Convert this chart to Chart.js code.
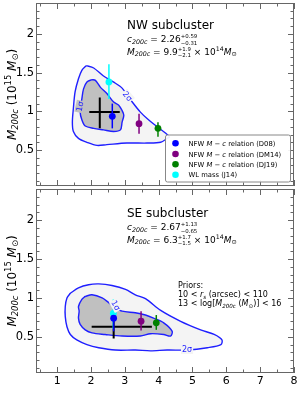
<!DOCTYPE html>
<html><head><meta charset="utf-8">
<script src="https://cdn.jsdelivr.net/npm/chart.js@4"></script>
<style>
html,body{margin:0;padding:0;background:#fff;}
#wrap{position:relative;width:300px;height:401px;}
.box{position:absolute;left:0;width:300px;}
</style></head>
<body><div id="wrap">
<div class="box" style="top:0;height:188px"><canvas id="c1"></canvas></div>
<div class="box" style="top:188px;height:213px"><canvas id="c2"></canvas></div>
</div>
<script>
// ---------- data ----------
const xTicks = [1, 2, 3, 4, 5, 6, 7, 8];
const yTicks = [0.5, 1, 1.5, 2];
const pointLabels = ['NFW M − c relation (D08)', 'NFW M − c relation (DM14)', 'NFW M − c relation (DJ19)', 'WL mass (J14)'];
const pointColors = ['#0000ff', '#800080', '#008000', '#00ffff'];

// NW subcluster
const nwOuterC = [1.86, 2.08, 2.36, 2.66, 2.92, 3.22, 3.46, 3.70, 3.96, 4.20, 4.32, 4.25, 4.06, 3.66, 3.06, 2.47, 2.18, 1.88, 1.63, 1.48, 1.45, 1.48, 1.53, 1.63, 1.73];
const nwOuterM = [1.59, 1.56, 1.46, 1.38, 1.30, 1.12, 0.99, 0.89, 0.80, 0.72, 0.67, 0.65, 0.60, 0.59, 0.59, 0.57, 0.56, 0.60, 0.65, 0.74, 0.86, 1.04, 1.25, 1.42, 1.53];
const nwInnerC = [2.03, 2.13, 2.28, 2.47, 2.67, 2.82, 2.92, 2.97, 2.92, 2.87, 2.67, 2.37, 2.08, 1.83, 1.73, 1.68, 1.73, 1.78, 1.88];
const nwInnerM = [1.41, 1.40, 1.31, 1.23, 1.12, 1.08, 1.01, 0.95, 0.86, 0.76, 0.74, 0.76, 0.78, 0.81, 0.89, 0.99, 1.16, 1.29, 1.38];
const nwPointC = [2.63, 3.42, 3.98, 2.53];
const nwPointM = [0.935, 0.84, 0.78, 1.38];
const nwPointLo = [0.78, 0.71, 0.67, 1.16];
const nwPointHi = [1.10, 0.97, 0.86, 1.61];
const nwBest = [2.26, 0.31, 0.59, 0.99, 0.21, 0.19]; // c, -err, +err, M, -err, +err

// SE subcluster
const seOuterC = [1.39, 1.63, 1.93, 2.23, 2.62, 3.02, 3.31, 3.61, 4.06, 4.65, 5.24, 5.64, 5.87, 5.84, 5.44, 4.85, 4.25, 3.76, 3.31, 2.72, 2.23, 1.88, 1.58, 1.39, 1.29, 1.24, 1.24, 1.29];
const seOuterM = [1.06, 1.13, 1.17, 1.18, 1.16, 1.11, 1.04, 0.99, 0.84, 0.70, 0.59, 0.53, 0.46, 0.40, 0.36, 0.33, 0.33, 0.32, 0.33, 0.33, 0.36, 0.40, 0.46, 0.53, 0.63, 0.76, 0.89, 1.00];
const seInnerC = [1.83, 2.03, 2.33, 2.52, 2.67, 2.92, 3.31, 3.61, 3.85, 4.15, 4.40, 4.35, 4.15, 3.76, 3.46, 2.92, 2.42, 2.03, 1.83, 1.68, 1.63, 1.65, 1.63, 1.73];
const seInnerM = [1.02, 1.04, 1.00, 0.94, 0.89, 0.83, 0.81, 0.78, 0.74, 0.68, 0.57, 0.51, 0.53, 0.54, 0.51, 0.51, 0.53, 0.55, 0.59, 0.66, 0.74, 0.83, 0.89, 0.98];
const sePointC = [2.67, 3.48, 3.93, 2.66];
const sePointM = [0.74, 0.70, 0.68, 0.80];
const sePointLo = [0.57, 0.58, 0.59, 0.60];
const sePointHi = [0.86, 0.83, 0.78, 0.98];
const seBest = [2.67, 0.65, 1.13, 0.63, 0.15, 0.17];

// ---------- helpers ----------
const FONT = '"DejaVu Sans"';
const xMin = 0.375, xMax = 8, yMin = 0.035, yMax = 2.4;
function fnt(size, it) { return (it ? 'italic ' : '') + size + 'px ' + FONT; }
function segWidth(ctx, s, size) {
  if (s.sup !== undefined) {
    ctx.font = fnt(size * s.sc, false);
    return Math.max(ctx.measureText(s.sup).width, ctx.measureText(s.sub).width);
  }
  ctx.font = fnt(size * (s.sc || 1), s.it);
  return ctx.measureText(s.t).width;
}
function drawRich(ctx, segs, x, y, size, align, color) {
  let w = 0; segs.forEach(s => w += segWidth(ctx, s, size));
  let cx = align === 'center' ? x - w / 2 : x;
  ctx.fillStyle = color || '#000'; ctx.textBaseline = 'alphabetic'; ctx.textAlign = 'left';
  segs.forEach(s => {
    const sw = segWidth(ctx, s, size);
    if (s.sup !== undefined) {
      ctx.font = fnt(size * s.sc, false);
      ctx.fillText(s.sup, cx, y - size * 0.42);
      ctx.fillText(s.sub, cx, y + size * 0.3);
    } else {
      ctx.font = fnt(size * (s.sc || 1), s.it);
      ctx.fillText(s.t, cx, y + (s.dy || 0) * size);
    }
    cx += sw;
  });
  return w;
}
const SUB = (t) => ({ t, it: true, sc: 0.7, dy: 0.22 });
function closed(cs, ms) { const d = cs.map((c, i) => ({ x: c, y: ms[i] })); d.push({ x: cs[0], y: ms[0] }); return d; }

const panelPlugin = {
  id: 'panel',
  beforeDatasetsDraw(chart) { chart.$barsDone = false; },
  beforeDatasetDraw(chart, args) {
    const ds = chart.data.datasets[args.index];
    if (!ds.isPoint || chart.$barsDone) return;
    chart.$barsDone = true;
    const p = chart.options.plugins.panel;
    const ctx = chart.ctx, xs = chart.scales.x, ys = chart.scales.y;
    ctx.save();
    const b = p.best;
    ctx.strokeStyle = '#000'; ctx.lineWidth = 2;
    ctx.beginPath();
    ctx.moveTo(xs.getPixelForValue(b[0] - b[1]), ys.getPixelForValue(b[3]));
    ctx.lineTo(xs.getPixelForValue(b[0] + b[2]), ys.getPixelForValue(b[3]));
    ctx.moveTo(xs.getPixelForValue(b[0]), ys.getPixelForValue(b[3] - b[4]));
    ctx.lineTo(xs.getPixelForValue(b[0]), ys.getPixelForValue(b[3] + b[5]));
    ctx.stroke();
    ctx.lineWidth = 1.5;
    for (let i = p.pc.length - 1; i >= 0; i--) {
      ctx.strokeStyle = pointColors[i];
      ctx.beginPath();
      const px = xs.getPixelForValue(p.pc[i]);
      ctx.moveTo(px, ys.getPixelForValue(p.lo[i]));
      ctx.lineTo(px, ys.getPixelForValue(p.hi[i]));
      ctx.stroke();
    }
    ctx.restore();
  },
  afterDatasetsDraw(chart) {
    const p = chart.options.plugins.panel;
    const ctx = chart.ctx, xs = chart.scales.x, ys = chart.scales.y;
    p.sig.forEach(s => {
      ctx.save();
      ctx.translate(xs.getPixelForValue(s.c), ys.getPixelForValue(s.m));
      ctx.rotate(s.r * Math.PI / 180);
      ctx.font = fnt(8, false);
      const w = ctx.measureText(s.t).width;
      ctx.fillStyle = s.bg; ctx.fillRect(-w / 2 - 1, -5, w + 2, 9);
      ctx.fillStyle = '#1f1fff'; ctx.textAlign = 'center'; ctx.textBaseline = 'middle';
      ctx.fillText(s.t, 0, 0);
      ctx.restore();
    });
  },
  afterDraw(chart) {
    const p = chart.options.plugins.panel;
    const ctx = chart.ctx, a = chart.chartArea, xs = chart.scales.x, ys = chart.scales.y;
    ctx.save();
    ctx.strokeStyle = '#666'; ctx.lineWidth = 1;
    ctx.strokeRect(a.left + 0.5, a.top + 0.5, a.right - a.left - 1, a.bottom - a.top - 1);
    ctx.beginPath();
    for (let v = 0.5; v <= xMax + 1e-9; v += 0.5) {
      const major = Math.abs(v - Math.round(v)) < 1e-6;
      const L = major ? 6 : 3.5;
      const x = Math.round(xs.getPixelForValue(v)) + 0.5;
      ctx.moveTo(x, a.bottom); ctx.lineTo(x, a.bottom - L);
      ctx.moveTo(x, a.top); ctx.lineTo(x, a.top + L);
    }
    for (let k = 1; k <= 23; k++) {
      const v = k / 10;
      const major = k % 5 === 0;
      const L = major ? 6 : 3.5;
      const y = Math.round(ys.getPixelForValue(v)) + 0.5;
      ctx.moveTo(a.left, y); ctx.lineTo(a.left + L, y);
      ctx.moveTo(a.right, y); ctx.lineTo(a.right - L, y);
    }
    ctx.stroke();
    ctx.save();
    ctx.translate(15.5, (a.top + a.bottom) / 2);
    ctx.rotate(-Math.PI / 2);
    drawRich(ctx, [{ t: 'M', it: true }, SUB('200c'), { t: ' (10' }, { t: '15', sc: 0.7, dy: -0.4 }, { t: ' ' }, { t: 'M', it: true }, { t: '⊙', sc: 0.7, dy: 0.22 }, { t: ')' }], 0, 0, 12, 'center');
    ctx.restore();
    drawRich(ctx, [{ t: p.title }], 127, 29.3, 12, 'left');
    drawRich(ctx, p.line1, 127, 42, 9, 'left');
    drawRich(ctx, p.line2, 127, 54.5, 9, 'left');
    if (p.priors) {
      drawRich(ctx, [{ t: 'Priors:' }], 178, 99.7, 8, 'left');
      drawRich(ctx, [{ t: '10 < ' }, { t: 'r', it: true }, { t: 's', it: true, sc: 0.7, dy: 0.22 }, { t: ' (arcsec) < 110' }], 178, 109, 8, 'left');
      drawRich(ctx, [{ t: '13 < log[' }, { t: 'M', it: true }, SUB('200c'), { t: ' (' }, { t: 'M', it: true }, { t: '⊙', sc: 0.7, dy: 0.22 }, { t: ')] < 16' }], 178, 118, 8, 'left');
      drawRich(ctx, [{ t: 'c', it: true }, SUB('200c')], (a.left + a.right) / 2, 395, 12.5, 'center');
    }
    if (p.legend) {
      const bx = 165, by = 134.5, bw = 125, bh = 47;
      ctx.fillStyle = 'rgba(255,255,255,0.92)'; ctx.strokeStyle = '#888'; ctx.lineWidth = 1;
      ctx.beginPath(); ctx.roundRect(bx + 0.5, by + 0.5, bw, bh, 2); ctx.fill(); ctx.stroke();
      const rows = [143.3, 154, 164.3, 174.8];
      pointLabels.forEach((lab, i) => {
        ctx.fillStyle = pointColors[i];
        ctx.beginPath(); ctx.arc(175.5, rows[i], 3.3, 0, Math.PI * 2); ctx.fill();
        let segs;
        const m = lab.match(/^(.*? )M − c( .*)$/);
        if (m) segs = [{ t: m[1] }, { t: 'M', it: true }, { t: ' − ' }, { t: 'c', it: true }, { t: m[2] }];
        else segs = [{ t: lab }];
        drawRich(ctx, segs, 188.5, rows[i] + 2.5, 6.8, 'left');
      });
    }
    ctx.restore();
  }
};

function zeroPad(s) { s.paddingTop = 0; s.paddingBottom = 0; s.paddingLeft = 0; s.paddingRight = 0; }

function makeChart(id, cfg) {
  const datasets = [];
  pointColors.forEach((col, i) => datasets.push({
    label: pointLabels[i], isPoint: true, data: [{ x: cfg.pc[i], y: cfg.pm[i] }],
    backgroundColor: col, borderColor: col, pointRadius: 3.4, pointBorderWidth: 0, order: 0
  }));
  datasets.push({ label: '1σ', data: closed(cfg.ic, cfg.im), showLine: true, fill: 'shape',
    backgroundColor: '#c0c0c0', borderColor: '#1f1fff', borderWidth: 1.4, pointRadius: 0, tension: 0.3, order: 2 });
  datasets.push({ label: '2σ', data: closed(cfg.oc, cfg.om), showLine: true, fill: 'shape',
    backgroundColor: '#f4f4f4', borderColor: '#1f1fff', borderWidth: 1.4, pointRadius: 0, tension: 0.3, order: 3 });
  return new Chart(document.getElementById(id), {
    type: 'scatter',
    data: { datasets },
    options: {
      responsive: true, maintainAspectRatio: false, animation: false, devicePixelRatio: 1,
      layout: { autoPadding: false, padding: cfg.pad },
      plugins: {
        legend: { display: false }, tooltip: { enabled: false },
        panel: cfg.panel
      },
      scales: {
        x: {
          type: 'linear', min: xMin, max: xMax,
          afterBuildTicks: s => { s.ticks = xTicks.map(v => ({ value: v })); },
          afterFit: s => { s.height = cfg.xh; zeroPad(s); },
          ticks: { display: cfg.showX, color: '#000', font: { family: 'DejaVu Sans', size: 11 }, padding: 2, maxRotation: 0, autoSkip: false, callback: v => String(v) },
          grid: { display: false, drawTicks: false }, border: { display: false }
        },
        y: {
          type: 'linear', min: yMin, max: yMax,
          afterBuildTicks: s => { s.ticks = yTicks.map(v => ({ value: v })); },
          afterFit: s => { s.width = 36; zeroPad(s); },
          ticks: { color: '#000', font: { family: 'DejaVu Sans', size: 11.5 }, padding: 2, autoSkip: false, callback: v => String(v) },
          grid: { display: false, drawTicks: false }, border: { display: false }
        }
      }
    },
    plugins: [panelPlugin]
  });
}

makeChart('c1', {
  oc: nwOuterC, om: nwOuterM, ic: nwInnerC, im: nwInnerM, pc: nwPointC, pm: nwPointM,
  pad: { left: 0, right: 6, top: 3, bottom: 2 }, xh: 0, showX: false,
  panel: {
    best: nwBest, pc: nwPointC, lo: nwPointLo, hi: nwPointHi, legend: true, priors: false,
    title: 'NW subcluster',
    line1: [{ t: 'c', it: true }, SUB('200c'), { t: ' = 2.26' }, { sup: '+0.59', sub: '−0.31', sc: 0.6 }],
    line2: [{ t: 'M', it: true }, SUB('200c'), { t: ' = 9.9' }, { sup: '+1.9', sub: '−2.1', sc: 0.6 }, { t: ' × 10' }, { t: '14', sc: 0.7, dy: -0.4 }, { t: 'M', it: true }, { t: '⊙', sc: 0.7, dy: 0.22 }],
    sig: [{ t: '1σ', c: 1.69, m: 1.06, r: -78, bg: '#c0c0c0' }, { t: '2σ', c: 3.07, m: 1.19, r: 50, bg: '#f4f4f4' }]
  }
});
makeChart('c2', {
  oc: seOuterC, om: seOuterM, ic: seInnerC, im: seInnerM, pc: sePointC, pm: sePointM,
  pad: { left: 0, right: 6, top: 1, bottom: 0 }, xh: 28, showX: true,
  panel: {
    best: seBest, pc: sePointC, lo: sePointLo, hi: sePointHi, legend: false, priors: true,
    title: 'SE subcluster',
    line1: [{ t: 'c', it: true }, SUB('200c'), { t: ' = 2.67' }, { sup: '+1.13', sub: '−0.65', sc: 0.6 }],
    line2: [{ t: 'M', it: true }, SUB('200c'), { t: ' = 6.3' }, { sup: '+1.7', sub: '−1.5', sc: 0.6 }, { t: ' × 10' }, { t: '14', sc: 0.7, dy: -0.4 }, { t: 'M', it: true }, { t: '⊙', sc: 0.7, dy: 0.22 }],
    sig: [{ t: '1σ', c: 2.72, m: 0.90, r: 60, bg: '#f4f4f4' }, { t: '2σ', c: 4.84, m: 0.33, r: 0, bg: '#f4f4f4' }]
  }
});
</script>
</body></html>
